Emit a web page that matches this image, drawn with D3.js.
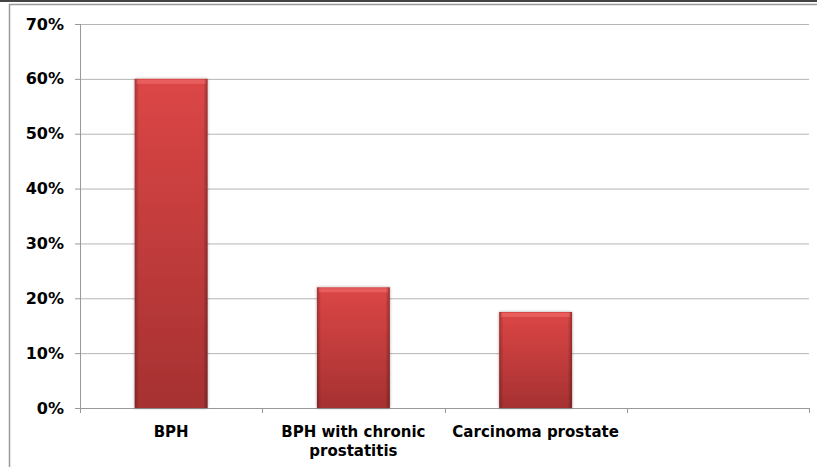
<html>
<head>
<meta charset="utf-8">
<style>
body { margin: 0; background: #fff; }
svg { display: block; }
.axis text { font: bold 15px "DejaVu Sans", Verdana, sans-serif; fill: #000; }
.axis.axis--y text { font-size: 16px; }
.axis path, .axis line { stroke: #999; }
.grid line { stroke: #b4b4b4; }
.grid path { display: none; }
</style>
</head>
<body>
<svg width="817" height="467"></svg>
<script src="https://cdn.jsdelivr.net/npm/d3@7"></script>
<script>

// data
var categories = ["BPH", "BPH with chronic prostatitis", "Carcinoma prostate", ""];
var values = [0.60, 0.22, 0.175, null];
var yTicks = [0, 0.1, 0.2, 0.3, 0.4, 0.5, 0.6, 0.7];

var svg = d3.select("svg"),
    margin = {top: 24, right: 8, bottom: 59, left: 80},
    width = +svg.attr("width") - margin.left - margin.right,
    height = +svg.attr("height") - margin.top - margin.bottom;

// outer frame, cropped at the right/bottom
svg.append("rect").attr("x", 0).attr("y", 0).attr("width", 817).attr("height", 2).attr("fill", "#444");
svg.append("path").attr("d", "M9.5,467V4.5H817").attr("fill", "none").attr("stroke", "#9a9a9a").attr("stroke-width", 1.5);

var defs = svg.append("defs");
var grad = defs.append("linearGradient").attr("id", "barGrad").attr("x1", 0).attr("y1", 0).attr("x2", 0).attr("y2", 1);
grad.append("stop").attr("offset", "0%").attr("stop-color", "#dc4646");
grad.append("stop").attr("offset", "100%").attr("stop-color", "#a63131");

var side = defs.append("linearGradient").attr("id", "sideGrad").attr("x1", 0).attr("y1", 0).attr("x2", 1).attr("y2", 0);
side.append("stop").attr("offset", "0%").attr("stop-color", "#000").attr("stop-opacity", 0.25);
side.append("stop").attr("offset", "6%").attr("stop-color", "#000").attr("stop-opacity", 0);
side.append("stop").attr("offset", "94%").attr("stop-color", "#000").attr("stop-opacity", 0);
side.append("stop").attr("offset", "100%").attr("stop-color", "#000").attr("stop-opacity", 0.3);

var shadow = defs.append("filter").attr("id", "shadow").attr("x", "-20%").attr("y", "-10%").attr("width", "140%").attr("height", "120%");
shadow.append("feDropShadow").attr("dx", 0).attr("dy", 0).attr("stdDeviation", 1.5).attr("flood-color", "#000").attr("flood-opacity", 0.35);

var x = d3.scaleBand()
  .domain(categories.map(function(d, i) { return i; }))
  .range([0, width])
  .paddingInner(0.6)
  .paddingOuter(0.3);

var y = d3.scaleLinear()
  .domain([0, 0.7])
  .range([height, 0]);

var g = svg.append("g")
  .attr("transform", "translate(" + margin.left + "," + margin.top + ")");

// gridlines
g.append("g")
  .attr("class", "grid")
  .call(d3.axisLeft(y).tickValues(yTicks).tickSize(-width).tickFormat(""))
  .selectAll("line").filter(function(d) { return d === 0; }).remove();

// y axis
var gy = g.append("g")
  .attr("class", "axis axis--y")
  .call(d3.axisLeft(y).tickValues(yTicks).tickSize(5).tickPadding(11).tickFormat(d3.format(".0%")));
gy.select(".domain").attr("d", "M0.5,0V" + height);

// x axis: ticks on band edges
var step = width / categories.length;
var gx = g.append("g")
  .attr("class", "axis")
  .attr("transform", "translate(0," + height + ")");
gx.append("line").attr("x1", 0).attr("x2", width).attr("y1", 0.5).attr("y2", 0.5);
gx.selectAll(".edge")
  .data(d3.range(categories.length + 1))
  .enter().append("line")
  .attr("class", "edge")
  .attr("x1", function(d) { return Math.round(d * step) + 0.5; })
  .attr("x2", function(d) { return Math.round(d * step) + 0.5; })
  .attr("y1", 0).attr("y2", 5);

// category labels (wrapped)
var labelLines = [["BPH"], ["BPH with chronic", "prostatitis"], ["Carcinoma prostate"], []];
gx.selectAll(".lab")
  .data(categories)
  .enter().append("text")
  .attr("class", "lab")
  .attr("text-anchor", "middle")
  .attr("x", function(d, i) { return x(i) + x.bandwidth() / 2; })
  .attr("y", 29)
  .each(function(d, i) {
    var t = d3.select(this);
    labelLines[i].forEach(function(s, k) {
      t.append("tspan").attr("x", x(i) + x.bandwidth() / 2).attr("dy", k ? 19 : 0).text(s);
    });
  });

// bars
var bars = g.selectAll(".bar")
  .data(values.map(function(v, i) { return {i: i, v: v}; }).filter(function(d) { return d.v != null; }))
  .enter().append("g")
  .attr("class", "bar");

bars.append("rect")
  .attr("x", function(d) { return x(d.i); })
  .attr("y", function(d) { return y(d.v); })
  .attr("width", x.bandwidth())
  .attr("height", function(d) { return height - y(d.v); })
  .attr("fill", "url(#barGrad)")
  .attr("filter", "url(#shadow)");

bars.append("rect")
  .attr("x", function(d) { return x(d.i); })
  .attr("y", function(d) { return y(d.v); })
  .attr("width", x.bandwidth())
  .attr("height", function(d) { return height - y(d.v); })
  .attr("fill", "url(#sideGrad)");

// bevel highlight on top
bars.append("rect")
  .attr("x", function(d) { return x(d.i) + 2; })
  .attr("y", function(d) { return y(d.v) + 1; })
  .attr("width", x.bandwidth() - 4)
  .attr("height", 4)
  .attr("fill", "#ff8a8a")
  .attr("opacity", 0.35);

</script>
</body>
</html>
